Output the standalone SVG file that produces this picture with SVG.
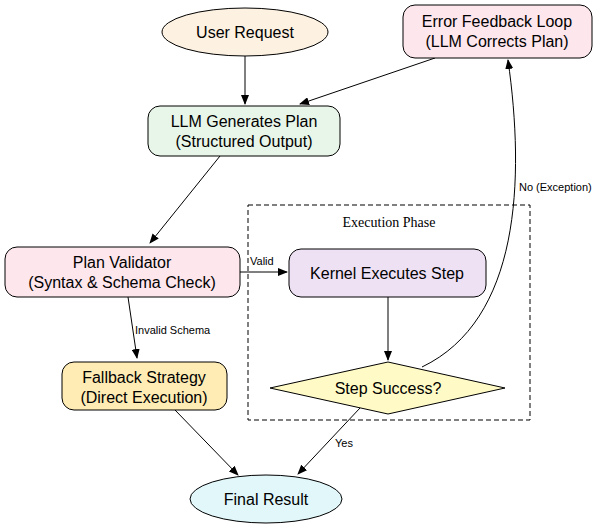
<svg xmlns="http://www.w3.org/2000/svg" width="612" height="528" viewBox="0 0 612 528">
<style>
.n{stroke:#000;stroke-width:1}
.t{font-family:"Liberation Sans",Arial,sans-serif;font-size:16px;text-anchor:middle;fill:#000}
.l{font-family:"Liberation Sans",Arial,sans-serif;font-size:11px;fill:#000}
.e{fill:none;stroke:#000;stroke-width:1;marker-end:url(#a)}
</style>
<defs><marker id="a" markerWidth="10" markerHeight="8" refX="9" refY="4" orient="auto" markerUnits="userSpaceOnUse"><path d="M0,0L10,4L0,8z" fill="#000"/></marker></defs>
<rect width="612" height="528" fill="#fff"/>
<g id="cluster"><rect x="248" y="205" width="282" height="215" fill="none" stroke="#000" stroke-dasharray="5,3"/><text x="389" y="227" style="font-family:'Liberation Serif',serif;font-size:14px;text-anchor:middle">Execution Phase</text></g>
<g id="connectors">
<path class="e" d="M245,56L245,104"/>
<path class="e" d="M435,58L300,104"/>
<path class="e" d="M220,156L150,243"/>
<path class="e" d="M240,272L287,272"/><text class="l" x="250" y="265">Valid</text>
<path class="e" d="M128,297L137,358"/><text class="l" x="135" y="334">Invalid Schema</text>
<path class="e" d="M388,297L388,360"/>
<path class="e" d="M422,367C520,320 525,180 508,60"/><text class="l" x="519" y="191">No (Exception)</text>
<path class="e" d="M360,408L298,474"/><text class="l" x="335" y="447">Yes</text>
<path class="e" d="M175,410L238,475"/>
</g>
<g id="user"><ellipse class="n" cx="245" cy="32" rx="83" ry="24" fill="#fdf1e1"/><text class="t" x="245" y="38">User Request</text></g>
<g id="error"><rect class="n" x="403" y="5" width="189" height="53" rx="12" fill="#fde6ec"/><text class="t" x="497" y="27">Error Feedback Loop</text><text class="t" x="497" y="47">(LLM Corrects Plan)</text></g>
<g id="llm"><rect class="n" x="148" y="106" width="192" height="50" rx="12" fill="#e8f5e9"/><text class="t" x="244" y="127">LLM Generates Plan</text><text class="t" x="244" y="147">(Structured Output)</text></g>
<g id="validator"><rect class="n" x="5" y="247" width="235" height="50" rx="12" fill="#fde6ec"/><text class="t" x="122" y="268">Plan Validator</text><text class="t" x="122" y="288">(Syntax &amp; Schema Check)</text></g>
<g id="kernel"><rect class="n" x="289" y="249" width="197" height="48" rx="12" fill="#efe1f4"/><text class="t" x="387" y="279">Kernel Executes Step</text></g>
<g id="fallback"><rect class="n" x="62" y="362" width="165" height="48" rx="12" fill="#feecb4"/><text class="t" x="144" y="383">Fallback Strategy</text><text class="t" x="144" y="403">(Direct Execution)</text></g>
<g id="success"><path class="n" d="M388,362L505,388L388,414L270,388z" fill="#fffac6"/><text class="t" x="388" y="394">Step Success?</text></g>
<g id="final"><ellipse class="n" cx="266" cy="499" rx="76" ry="24" fill="#e1f7fa"/><text class="t" x="266" y="505">Final Result</text></g>
</svg>
